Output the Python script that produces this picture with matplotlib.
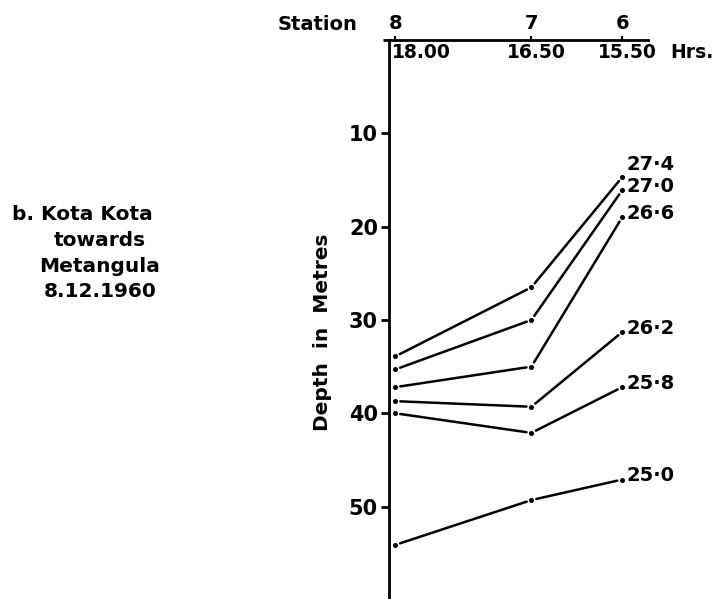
import matplotlib
matplotlib.use("Agg")
import matplotlib.pyplot as plt
import numpy as np
from matplotlib.transforms import blended_transform_factory

# Stations along the section and the time each was worked
stations = ["8", "7", "6"]
hours = [18.00, 16.50, 15.50]
hour_labels = ["18.00", "16.50", "15.50"]

# Depth (m) of each isotherm at stations 8, 7, 6
isotherm_labels = ["27·4", "27·0", "26·6", "26·2", "25·8", "25·0"]
depth_274 = [33.9, 26.5, 14.7]
depth_270 = [35.3, 30.0, 16.1]
depth_266 = [37.2, 35.0, 19.0]
depth_262 = [38.7, 39.3, 31.3]
depth_258 = [40.0, 42.1, 37.2]
depth_250 = [54.1, 49.3, 47.1]
isotherm_depths = [depth_274, depth_270, depth_266, depth_262, depth_258, depth_250]

y_ticks = [10, 20, 30, 40, 50]

W, H = 718, 599
plt.rcParams["font.family"] = ["DejaVu Sans"]
plt.rcParams["font.weight"] = "bold"

fig = plt.figure(figsize=(W / 100, H / 100), dpi=100)
ax = fig.add_axes([389 / W, 0, (648 - 389) / W, 1 - 40 / H])

ax.set_xlim(18.07, 15.215)
ax.set_ylim(59.9, 0)

for side in ("right", "bottom"):
    ax.spines[side].set_visible(False)
for side in ("left", "top"):
    ax.spines[side].set_linewidth(2.0)

# Short stub of the top axis running left of the depth axis
ax.plot([0, -6 / 259], [1, 1], transform=ax.transAxes, color="black",
        lw=2.0, clip_on=False, solid_capstyle="butt")

# Station numbers on the top axis
ax.xaxis.tick_top()
ax.set_xticks(hours)
ax.set_xticklabels(stations)
ax.tick_params(axis="x", direction="out", length=3, width=1.5, pad=2,
               labelsize=14)

ax.set_yticks(y_ticks)
ax.set_yticklabels([str(t) for t in y_ticks])
ax.tick_params(axis="y", direction="out", length=6, width=2, pad=2,
               labelsize=15)

# Times below the top axis
blend = blended_transform_factory(ax.transData, ax.transAxes)
for h, lab in zip(hours, hour_labels):
    if h == hours[0]:
        ax.annotate(lab, (h, 1), xycoords=blend, xytext=(-3, -13),
                    textcoords="offset pixels", ha="left", va="center",
                    fontsize=13.5, fontweight="bold")
    else:
        ax.annotate(lab, (h, 1), xycoords=blend, xytext=(5, -13),
                    textcoords="offset pixels", ha="center", va="center",
                    fontsize=13.5, fontweight="bold")
fig.text(670 / W, 1 - 53 / H, "Hrs.", ha="left", va="center",
         fontsize=13.5, fontweight="bold")
fig.text(278 / W, 1 - 25 / H, "Station", ha="left", va="center",
         fontsize=14, fontweight="bold")

ax.text(-0.258, 1 - (332 - 40) / 559, "Depth  in  Metres", transform=ax.transAxes,
        rotation=90, ha="center", va="center", fontsize=14.5, fontweight="bold")

# Site caption
fig.text(12 / W, 1 - 215 / H, "b. Kota Kota", ha="left", va="center",
         fontsize=14.5, fontweight="bold")
for line, yc in zip(["towards", "Metangula", "8.12.1960"], [241, 266, 291]):
    fig.text(100 / W, 1 - yc / H, line, ha="center", va="center",
             fontsize=14.5, fontweight="bold")

# Isotherm lines: dots at each station, segments stopping short of the dots
fig.canvas.draw()
gap = 5.0
inv = ax.transData.inverted()
for depths in isotherm_depths:
    pts = ax.transData.transform(np.column_stack([hours, depths]))
    for p0, p1 in zip(pts[:-1], pts[1:]):
        d = p1 - p0
        u = d / np.hypot(*d)
        seg = inv.transform(np.array([p0 + u * gap, p1 - u * gap]))
        ax.plot(seg[:, 0], seg[:, 1], color="black", lw=1.8,
                solid_capstyle="round", clip_on=False)
    ax.plot(hours, depths, linestyle="none", marker="o", markersize=2.6,
            color="black", clip_on=False)

for lab, depths in zip(isotherm_labels, isotherm_depths):
    dy = 13 if lab == "27·4" else 4
    ax.annotate(lab, (hours[-1], depths[-1]), xytext=(4, dy),
                textcoords="offset pixels", ha="left", va="center",
                fontsize=14, fontweight="bold", annotation_clip=False)

fig.savefig("out.png", dpi=100)
